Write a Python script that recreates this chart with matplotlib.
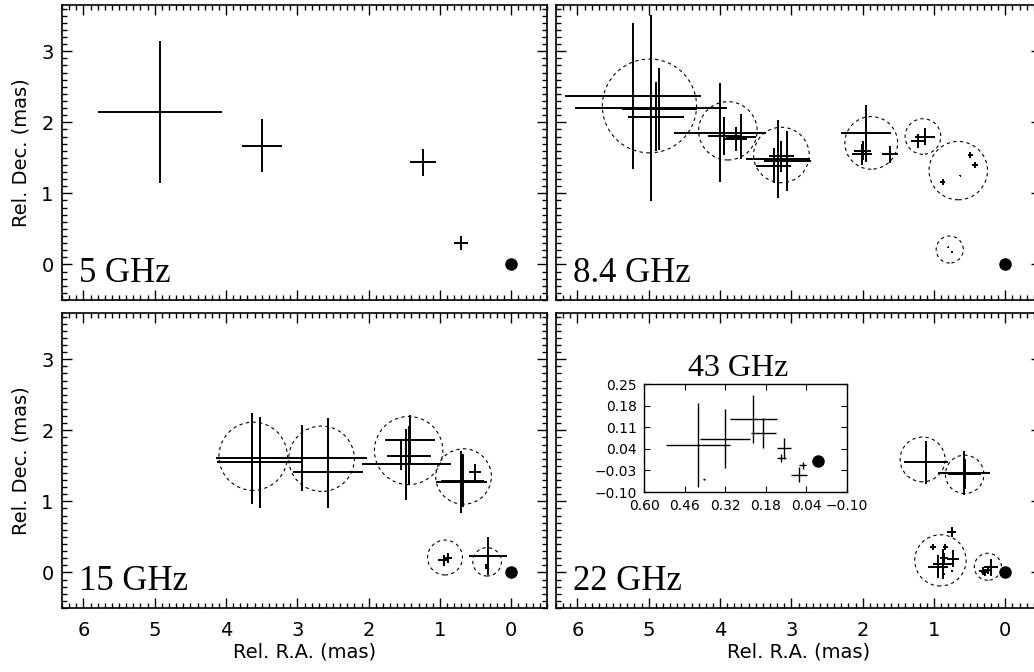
import matplotlib
matplotlib.use('Agg')
import matplotlib.pyplot as plt
from matplotlib.patches import Circle
from matplotlib.ticker import MultipleLocator, FixedLocator, FixedFormatter

# component positions (mas) and errors, per frequency
ra5 = [4.92, 3.49, 1.24, 0.71]
dec5 = [2.15, 1.67, 1.435, 0.30]
xe5 = [0.87, 0.28, 0.18, 0.10]
ye5 = [1.00, 0.37, 0.19, 0.10]

ra8 = [5.22, 4.97, 4.90, 4.85, 4.00, 3.94, 3.78, 3.70, 3.25, 3.19, 3.14, 3.06,
       1.95, 2.01, 2.00, 1.62, 1.22, 1.13, 0.88, 0.49, 0.43, 0.63, 0.80, 0.75]
dec8 = [2.37, 2.20, 2.08, 2.19, 1.855, 1.81, 1.76, 1.80, 1.39, 1.485, 1.52, 1.46,
        1.845, 1.55, 1.60, 1.55, 1.74, 1.80, 1.16, 1.54, 1.40, 1.25, 0.24, 0.17]
xe8 = [0.95, 1.07, 0.39, 0.52, 0.65, 0.23, 0.16, 0.21, 0.25, 0.45, 0.18, 0.33,
       0.35, 0.14, 0.12, 0.11, 0.10, 0.14, 0.04, 0.04, 0.04, 0.01, 0.01, 0.01]
ye8 = [1.03, 1.31, 0.49, 0.58, 0.70, 0.27, 0.17, 0.31, 0.25, 0.55, 0.22, 0.42,
       0.40, 0.15, 0.13, 0.12, 0.10, 0.12, 0.04, 0.04, 0.04, 0.01, 0.01, 0.01]
cx8 = [4.99, 3.89, 3.14, 1.88, 1.155, 0.66, 0.78]
cy8 = [2.23, 1.88, 1.54, 1.71, 1.80, 1.32, 0.21]
r8 = [0.66, 0.41, 0.39, 0.37, 0.25, 0.41, 0.19]

ra15 = [3.64, 3.52, 2.93, 2.57, 2.57, 1.47, 1.42, 1.44, 1.55, 0.70, 0.68, 0.51,
        0.95, 0.895, 0.33, 0.36]
dec15 = [1.61, 1.55, 1.61, 1.61, 1.42, 1.52, 1.86, 1.645, 1.645, 1.27, 1.29, 1.41,
         0.17, 0.205, 0.23, 0.085]
xe15 = [0.50, 0.60, 0.48, 0.54, 0.49, 0.62, 0.35, 0.31, 0.12, 0.36, 0.30, 0.09,
        0.08, 0.07, 0.27, 0.01]
ye15 = [0.64, 0.64, 0.46, 0.56, 0.52, 0.50, 0.35, 0.42, 0.20, 0.44, 0.37, 0.11,
        0.08, 0.07, 0.27, 0.03]
cx15 = [3.62, 2.66, 1.44, 0.67, 0.93, 0.34]
cy15 = [1.635, 1.60, 1.715, 1.35, 0.21, 0.15]
r15 = [0.48, 0.46, 0.48, 0.39, 0.245, 0.20]

ra22 = [1.11, 0.58, 0.57, 0.95, 0.875, 0.735, 0.86, 1.015, 0.84, 0.75, 0.86, 0.75,
        0.31, 0.24, 0.20, 0.285]
dec22 = [1.55, 1.40, 1.39, 0.08, 0.115, 0.19, 0.20, 0.36, 0.36, 0.57, -0.02, 0.02,
         0.02, 0.04, 0.07, 0.0]
xe22 = [0.31, 0.36, 0.23, 0.14, 0.14, 0.085, 0.055, 0.04, 0.04, 0.065, 0.01, 0.01,
        0.055, 0.055, 0.095, 0.05]
ye22 = [0.30, 0.31, 0.21, 0.16, 0.21, 0.12, 0.07, 0.04, 0.04, 0.07, 0.01, 0.01,
        0.055, 0.055, 0.125, 0.05]
cx22 = [1.16, 0.57, 0.91, 0.245]
cy22 = [1.59, 1.38, 0.17, 0.08]
r22 = [0.315, 0.27, 0.36, 0.19]

ra43 = [0.414, 0.321, 0.223, 0.188, 0.117, 0.127, 0.066, 0.053, 0.392]
dec43 = [0.052, 0.073, 0.137, 0.090, 0.041, 0.0105, -0.044, -0.013, -0.059]
xe43 = [0.111, 0.085, 0.082, 0.043, 0.023, 0.015, 0.0265, 0.011, 0.003]
ye43 = [0.135, 0.095, 0.078, 0.049, 0.033, 0.013, 0.025, 0.011, 0.001]
ticks43x = [0.60, 0.46, 0.32, 0.18, 0.04, -0.10]
ticks43y = [-0.10, -0.03, 0.04, 0.11, 0.18, 0.25]
labels43x = ['0.60', '0.46', '0.32', '0.18', '0.04', '\u22120.10']
labels43y = ['\u22120.10', '\u22120.03', '0.04', '0.11', '0.18', '0.25']

W, H = 1034, 672
fig = plt.figure(figsize=(W / 100, H / 100), dpi=100)


def px_axes(x0, y0, x1, y1):
    return fig.add_axes([x0 / W, 1 - y1 / H, (x1 - x0) / W, (y1 - y0) / H])


def style(ax, left, bottom):
    ax.set_xlim(6.3, -0.5)
    ax.set_ylim(-0.5, 3.65)
    ax.xaxis.set_major_locator(MultipleLocator(1))
    ax.xaxis.set_minor_locator(MultipleLocator(0.1))
    ax.yaxis.set_major_locator(MultipleLocator(1))
    ax.yaxis.set_minor_locator(MultipleLocator(0.1))
    ax.tick_params(which='both', direction='in', top=True, right=True, width=1.0)
    ax.tick_params(which='major', length=7, labelsize=14)
    ax.tick_params(which='minor', length=3.5)
    ax.tick_params(axis='x', pad=9)
    ax.tick_params(axis='y', pad=6)
    for s in ax.spines.values():
        s.set_linewidth(1.2)
    if left:
        ax.set_ylabel('Rel. Dec. (mas)', fontsize=14, labelpad=8)
    else:
        ax.tick_params(labelleft=False)
    if bottom:
        ax.set_xlabel('Rel. R.A. (mas)', fontsize=14, labelpad=2)
    else:
        ax.tick_params(labelbottom=False)


def draw(ax, ra, dec, xe, ye, cx, cy, r, label):
    ax.errorbar(ra, dec, xerr=xe, yerr=ye, fmt='none', ecolor='k', elinewidth=1.4, capsize=0)
    for x, y, rr in zip(cx, cy, r):
        ax.add_patch(Circle((x, y), rr, fill=False, ec='k', lw=0.8, ls=(0, (3, 3))))
    ax.plot([0], [0], 'o', color='k', ms=8)
    ax.text(0.035, 0.062, label, transform=ax.transAxes, ha='left', va='baseline',
            fontsize=25, family='Liberation Serif')


ax1 = px_axes(62, 5, 547, 300)
ax2 = px_axes(556, 5, 1041, 300)
ax3 = px_axes(62, 313, 547, 608)
ax4 = px_axes(556, 313, 1041, 608)

style(ax1, True, False)
style(ax2, False, False)
style(ax3, True, True)
style(ax4, False, True)

draw(ax1, ra5, dec5, xe5, ye5, [], [], [], '5 GHz')
draw(ax2, ra8, dec8, xe8, ye8, cx8, cy8, r8, '8.4 GHz')
draw(ax3, ra15, dec15, xe15, ye15, cx15, cy15, r15, '15 GHz')
draw(ax4, ra22, dec22, xe22, ye22, cx22, cy22, r22, '22 GHz')

# 43 GHz inset
axi = px_axes(644, 384, 847, 492)
axi.errorbar(ra43, dec43, xerr=xe43, yerr=ye43, fmt='none', ecolor='k', elinewidth=1.0, capsize=0)
axi.plot([0], [0], 'o', color='k', ms=8)
axi.set_xlim(0.60, -0.10)
axi.set_ylim(-0.10, 0.25)
axi.xaxis.set_major_locator(FixedLocator(ticks43x))
axi.xaxis.set_major_formatter(FixedFormatter(labels43x))
axi.yaxis.set_major_locator(FixedLocator(ticks43y))
axi.yaxis.set_major_formatter(FixedFormatter(labels43y))
axi.tick_params(direction='in', top=True, right=True, length=4, width=0.8, labelsize=10, pad=5)
for s in axi.spines.values():
    s.set_linewidth(1.0)
fig.text(737.7 / W, 1 - 376 / H, '43 GHz', ha='center', va='baseline',
         fontsize=23, family='Liberation Serif')

fig.savefig('out.png', dpi=100)
